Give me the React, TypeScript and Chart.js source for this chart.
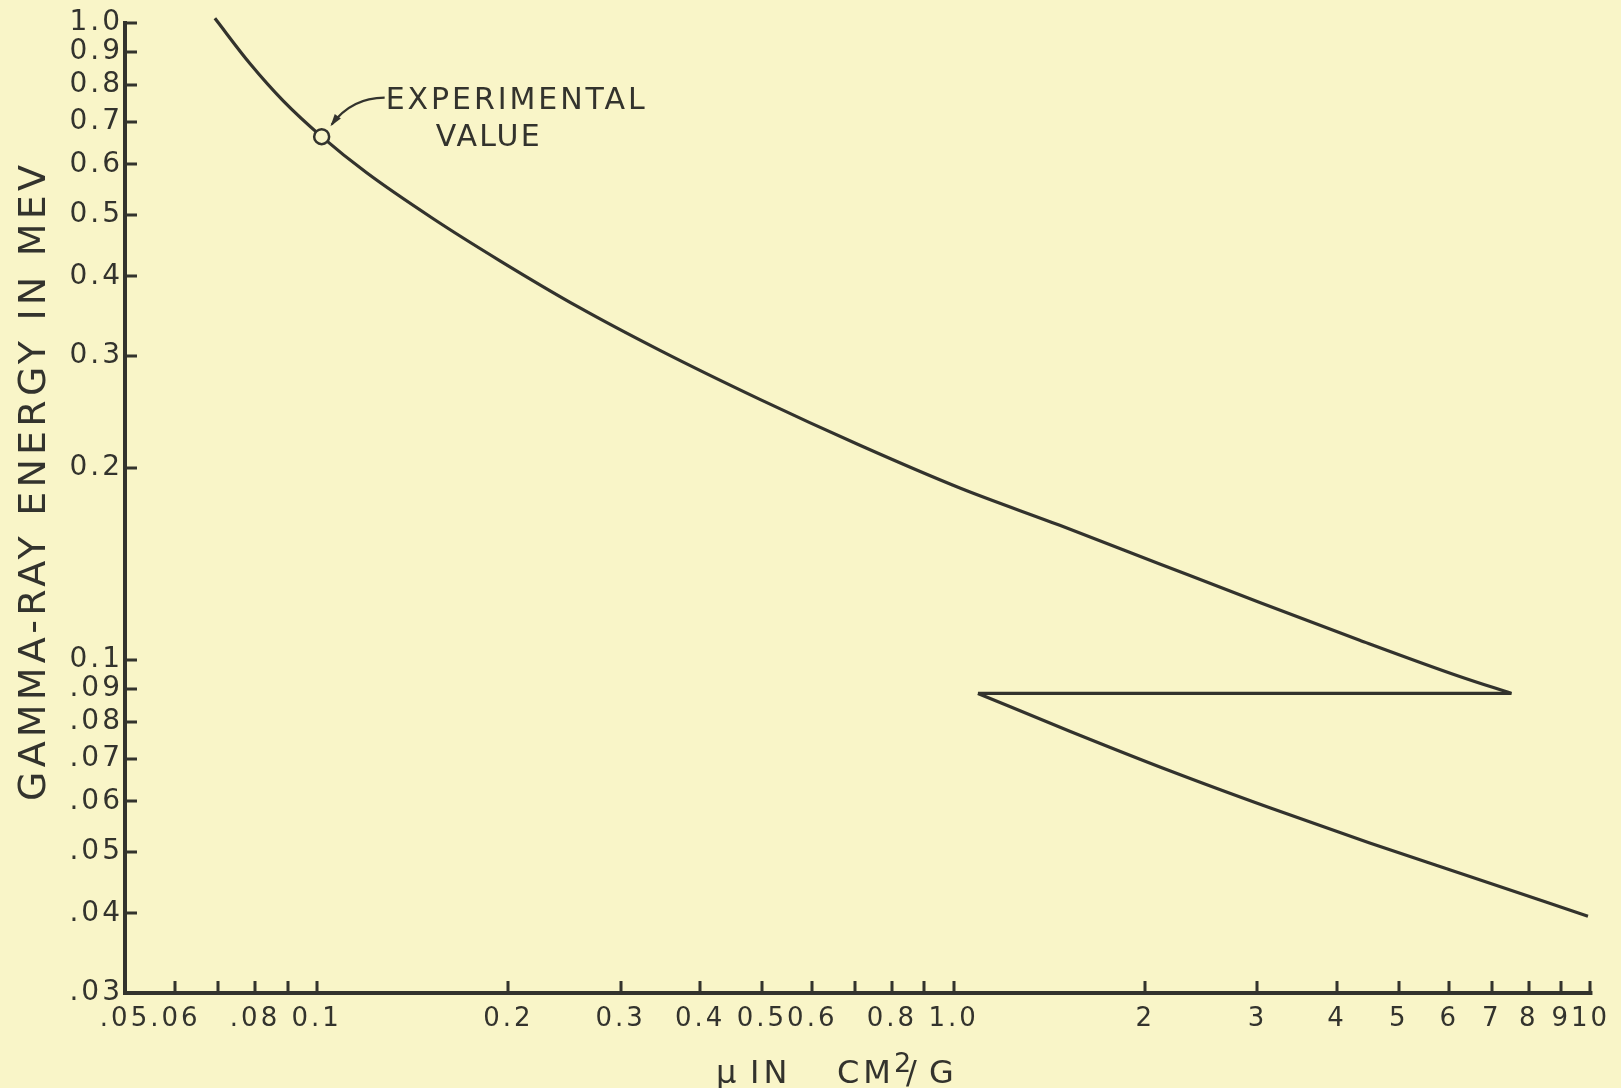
import React, { useEffect, useRef } from 'react';
import { Chart, registerables } from 'chart.js';

Chart.register(...registerables);

// ---- data (mass attenuation coefficient of lead vs gamma energy) ----
const X_TICKS = [0.05, 0.06, 0.07, 0.08, 0.09, 0.1, 0.2, 0.3, 0.4, 0.5, 0.6, 0.7, 0.8, 0.9, 1, 2, 3, 4, 5, 6, 7, 8, 9, 10];
const X_LABELS = ['.05', '.06', '', '.08', '', '0.1', '0.2', '0.3', '0.4', '0.5', '0.6', '', '0.8', '', '1.0', '2', '3', '4', '5', '6', '7', '8', '9', '10'];
const Y_TICKS = [0.03, 0.04, 0.05, 0.06, 0.07, 0.08, 0.09, 0.1, 0.2, 0.3, 0.4, 0.5, 0.6, 0.7, 0.8, 0.9, 1.0];
const Y_LABELS = ['.03', '.04', '.05', '.06', '.07', '.08', '.09', '0.1', '0.2', '0.3', '0.4', '0.5', '0.6', '0.7', '0.8', '0.9', '1.0'];

const UPPER_MU = [0.0692, 0.0786, 0.0886, 0.1018, 0.1198, 0.1524, 0.194, 0.2574, 0.3459, 0.4964, 0.7126, 1.023, 1.468, 2.107, 3.025, 4.342, 6.233, 7.516];
const UPPER_E = [1.0171, 0.8629, 0.7546, 0.6631, 0.5818, 0.4928, 0.4233, 0.3583, 0.3062, 0.2565, 0.2173, 0.1862, 0.1627, 0.1415, 0.1231, 0.1074, 0.0942, 0.0886];

const EDGE_MU = [7.516, 1.092];
const EDGE_E = [0.0886, 0.0886];

const LOWER_MU = [1.092, 1.522, 2.185, 3.137, 4.502, 6.466, 9.91];
const LOWER_E = [0.0886, 0.0773, 0.067, 0.0586, 0.0516, 0.0457, 0.0396];

const EXP_MU = [0.1018];
const EXP_E = [0.6631];

const Y_TITLE = 'GAMMA-RAY ENERGY IN MEV';
const ANNOT_1 = 'EXPERIMENTAL';
const ANNOT_2 = 'VALUE';

// ---- styles ----
const BG = '#f9f5c8';
const INK = '#33332d';
const FONT = 'DejaVu Sans';
const TICK_SPACING = '3px';

const pts = (xs: number[], ys: number[]) => xs.map((x, i) => ({ x, y: ys[i] }));

function fitText(ctx: CanvasRenderingContext2D, text: string, x: number, y: number, target: number, align: 'left' | 'center') {
  ctx.letterSpacing = '0px';
  const w = ctx.measureText(text).width;
  const n = Array.from(text).length;
  const sp = (target - w) / Math.max(n - 1, 1);
  ctx.letterSpacing = sp + 'px';
  ctx.textAlign = align;
  ctx.fillText(text, align === 'center' ? x + sp / 2 : x, y);
  ctx.letterSpacing = '0px';
}

const paperPlugin = {
  id: 'paper',
  beforeLayout(chart: any) {
    chart.ctx.letterSpacing = TICK_SPACING;
  },
  beforeDraw(chart: any) {
    const { ctx, width, height } = chart;
    ctx.save();
    ctx.fillStyle = BG;
    ctx.fillRect(0, 0, width, height);
    ctx.restore();
    ctx.letterSpacing = TICK_SPACING;
  },
  afterDraw(chart: any) {
    const { ctx, chartArea } = chart;
    const xs = chart.scales.x;
    const ys = chart.scales.y;
    const { left, right, top, bottom } = chartArea;
    ctx.save();
    ctx.letterSpacing = '0px';
    ctx.strokeStyle = INK;
    ctx.fillStyle = INK;
    // axes
    ctx.lineWidth = 4;
    ctx.lineCap = 'square';
    ctx.beginPath();
    ctx.moveTo(left, top);
    ctx.lineTo(left, bottom);
    ctx.lineTo(right, bottom);
    ctx.stroke();
    // inside tick marks
    ctx.lineWidth = 3;
    ctx.lineCap = 'butt';
    ctx.beginPath();
    Y_TICKS.forEach((v) => {
      const p = Math.round(ys.getPixelForValue(v));
      ctx.moveTo(left, p);
      ctx.lineTo(left + 12, p);
    });
    X_TICKS.forEach((v) => {
      const p = Math.round(xs.getPixelForValue(v));
      ctx.moveTo(p, bottom);
      ctx.lineTo(p, bottom - 12);
    });
    ctx.stroke();

    // y title
    ctx.save();
    ctx.translate(45, (top + bottom) / 2 - 25);
    ctx.rotate(-Math.PI / 2);
    ctx.font = `38px "${FONT}"`;
    ctx.textBaseline = 'alphabetic';
    fitText(ctx, Y_TITLE, 0, 0, 636, 'center');
    ctx.restore();

    // x title: μ IN CM²/G
    ctx.textBaseline = 'alphabetic';
    ctx.textAlign = 'left';
    const base = 1083;
    ctx.font = `32px "${FONT}"`;
    ctx.fillText('\u03bc', 716, base);
    ctx.letterSpacing = '4px';
    ctx.fillText('IN', 750, base);
    ctx.fillText('CM', 837, base);
    ctx.letterSpacing = '0px';
    ctx.fillText('/', 906, base);
    ctx.fillText('G', 929, base);
    ctx.font = `27px "${FONT}"`;
    ctx.fillText('2', 894, 1072);

    // annotation
    const px = xs.getPixelForValue(EXP_MU[0]);
    const py = ys.getPixelForValue(EXP_E[0]);
    ctx.font = `30px "${FONT}"`;
    fitText(ctx, ANNOT_1, px + 64, py - 28, 259, 'left');
    fitText(ctx, ANNOT_2, px + 114, py + 9, 104, 'left');
    // curved leader arrow
    ctx.lineWidth = 2.2;
    const sx = px + 63, sy = py - 39;
    const cx = px + 30, cy = py - 39;
    const tx = px + 10, ty = py - 12;
    ctx.beginPath();
    ctx.moveTo(sx, sy);
    ctx.quadraticCurveTo(cx, cy, tx, ty);
    ctx.stroke();
    const ang = Math.atan2(ty - cy, tx - cx);
    const ah = 11;
    ctx.beginPath();
    ctx.moveTo(tx + Math.cos(ang) * 2, ty + Math.sin(ang) * 2);
    ctx.lineTo(tx - Math.cos(ang - 0.35) * ah, ty - Math.sin(ang - 0.35) * ah);
    ctx.lineTo(tx - Math.cos(ang + 0.35) * ah, ty - Math.sin(ang + 0.35) * ah);
    ctx.closePath();
    ctx.fill();
    ctx.restore();
  },
};

export default function App() {
  const ref = useRef<HTMLCanvasElement>(null);
  useEffect(() => {
    const lineStyle = {
      showLine: true,
      borderColor: INK,
      borderWidth: 3.2,
      pointRadius: 0,
      fill: false,
      clip: false as any,
    };
    const chart = new Chart(ref.current!, {
      type: 'scatter',
      data: {
        datasets: [
          { ...lineStyle, data: pts(UPPER_MU, UPPER_E), cubicInterpolationMode: 'monotone' } as any,
          { ...lineStyle, data: pts(EDGE_MU, EDGE_E), tension: 0 } as any,
          { ...lineStyle, data: pts(LOWER_MU, LOWER_E), cubicInterpolationMode: 'monotone' } as any,
          {
            data: pts(EXP_MU, EXP_E),
            showLine: false,
            pointRadius: 7.5,
            pointBorderWidth: 2.5,
            pointBorderColor: INK,
            pointBackgroundColor: BG,
            order: -1,
            clip: false,
          } as any,
        ],
      },
      options: {
        responsive: false,
        animation: false,
        events: [],
        layout: { padding: { top: 23, right: 30, left: 0, bottom: 0 } },
        plugins: { legend: { display: false }, tooltip: { enabled: false }, title: { display: false } },
        scales: {
          x: {
            type: 'logarithmic',
            min: 0.05,
            max: 10,
            bounds: 'data',
            grid: { display: false, drawTicks: false },
            border: { display: false },
            afterBuildTicks: (s: any) => {
              s.ticks = X_TICKS.map((v) => ({ value: v }));
            },
            afterFit: (s: any) => {
              s.height = 95;
            },
            ticks: {
              autoSkip: false,
              maxRotation: 0,
              minRotation: 0,
              padding: 11,
              color: INK,
              font: { family: FONT, size: 26 },
              callback: (_v: any, i: number) => X_LABELS[i],
            },
          },
          y: {
            type: 'logarithmic',
            min: 0.03,
            max: 1.0,
            bounds: 'data',
            grid: { display: false, drawTicks: false },
            border: { display: false },
            afterBuildTicks: (s: any) => {
              s.ticks = Y_TICKS.map((v) => ({ value: v }));
            },
            afterFit: (s: any) => {
              s.width = 125;
            },
            ticks: {
              autoSkip: false,
              padding: 2,
              color: INK,
              font: { family: FONT, size: 28 },
              callback: (_v: any, i: number) => Y_LABELS[i],
            },
          },
        },
      } as any,
      plugins: [paperPlugin as any],
    });
    return () => chart.destroy();
  }, []);
  return (
    <div style={{ position: 'fixed', left: 0, top: 0, width: 1621, height: 1088, background: BG }}>
      <canvas ref={ref} width={1621} height={1088} style={{ display: 'block', width: 1621, height: 1088 }} />
    </div>
  );
}
